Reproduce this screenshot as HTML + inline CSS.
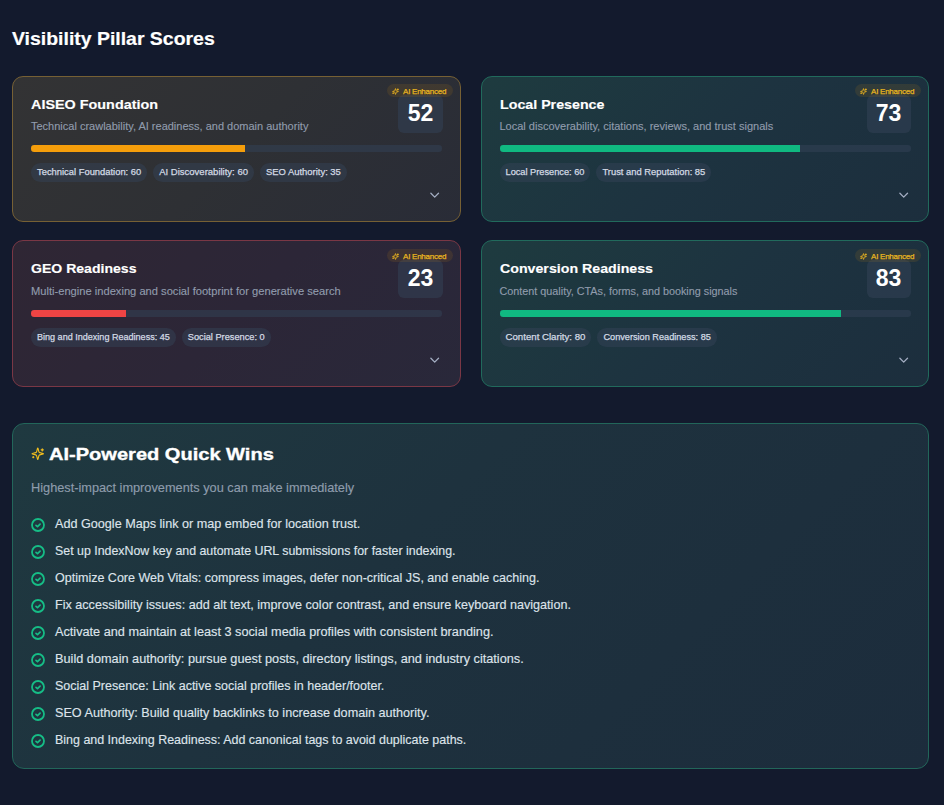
<!DOCTYPE html>
<html><head><meta charset="utf-8">
<style>
*{box-sizing:border-box;margin:0;padding:0}
html,body{width:944px;height:805px;overflow:hidden;background:#131a2d;font-family:"Liberation Sans",sans-serif}
.abs{position:absolute}
.card.row2{height:147px}.row2>*{margin-top:1px}.row2>.title{margin-top:0}
.h1{position:absolute;left:12px;top:28.5px;font-size:18.6px;line-height:20px;transform:scaleX(1.045);transform-origin:0 0;-webkit-text-stroke:0.2px #fff;font-weight:700;color:#fff;white-space:nowrap}
.card{position:absolute;width:449px;height:146px;border:1px solid;border-radius:11px;overflow:hidden}
.c-amber{border-color:#766034;background:linear-gradient(135deg,#333334 0%,#2e3034 50%,#292c37 100%)}
.c-green{border-color:#216a5c;background:linear-gradient(135deg,#1e3b3f 0%,#1d3340 50%,#1c2e3d 100%)}
.c-red{border-color:#7a3745;background:linear-gradient(135deg,#2f2634 0%,#2c2637 50%,#29283a 100%)}
.title{position:absolute;left:18px;top:20px;font-size:13.6px;line-height:16px;transform-origin:0 0;-webkit-text-stroke:0.15px #fff;font-weight:700;color:#fff;white-space:nowrap}
.desc{position:absolute;left:18px;top:43px;font-size:11px;line-height:12px;color:#919cad;-webkit-text-stroke:0.12px #919cad;white-space:nowrap}
.track{position:absolute;left:18px;top:68px;width:411px;height:6.5px;border-radius:3.25px;background:rgba(51,65,85,0.55);overflow:hidden}
.fill{position:absolute;left:0;top:0;bottom:0}
.chips{position:absolute;left:18px;top:86px;display:flex;gap:6px}
.chip{height:18.5px;padding:0 6px;border-radius:9.25px;background:rgba(51,65,85,0.5);color:#d3dae4;font-size:9.4px;line-height:18px;-webkit-text-stroke:0.25px #d3dae4;white-space:nowrap}
.score{position:absolute;left:385px;top:18px;width:45px;height:38px;border-radius:6px;background:rgba(51,65,85,0.55);color:#fff;font-weight:700;font-size:23px;line-height:37px;text-align:center}
.badge{position:absolute;right:7.5px;top:7.3px;height:13.2px;padding:2px 6.4px 0 5.4px;border-radius:7px;background:rgba(245,158,11,0.1);color:#e9b61f;font-size:8px;letter-spacing:-0.25px;line-height:11.2px;-webkit-text-stroke:0.25px #e9b61f;white-space:nowrap;display:flex;align-items:center;gap:3.7px}
.badge svg{width:7px;height:7px;flex:none;margin-top:-1px}
.chev{position:absolute;left:417px;top:114px;width:12px;height:10px}
.section{position:absolute;left:12px;top:423px;width:917px;height:346px;border:1px solid #22665a;border-radius:12px;background:linear-gradient(135deg,#1f3940 0%,#1e323e 40%,#1c2c3c 100%)}
.stitle{position:absolute;left:36px;top:21px;font-size:17.3px;line-height:18px;transform:scaleX(1.16);transform-origin:0 0;-webkit-text-stroke:0.35px #fff;font-weight:700;color:#fff;white-space:nowrap}
.ssub{position:absolute;left:18px;top:56.5px;font-size:12.75px;line-height:14px;color:#8e9cac;-webkit-text-stroke:0.15px #8e9cac;white-space:nowrap}
.item{position:absolute;left:18px;height:16px;white-space:nowrap}
.item svg{position:absolute;left:0;top:0;width:14px;height:14px}
.item span{position:absolute;left:24px;top:-1.5px;font-size:12.7px;line-height:14px;color:#dde3ea;-webkit-text-stroke:0.15px #dde3ea}
</style></head><body>
<div class="h1">Visibility Pillar Scores</div>

<!-- card 1 -->
<div class="card c-amber" style="left:12px;top:76px">
  <div class="title" style="transform:scaleX(1.058)">AISEO Foundation</div>
  <div class="desc">Technical crawlability, AI readiness, and domain authority</div>
  <div class="track"><div class="fill" style="width:214px;background:#f59e0b"></div></div>
  <div class="chips"><div class="chip" style="font-size:9.39px">Technical Foundation: 60</div><div class="chip" style="font-size:9.51px">AI Discoverability: 60</div><div class="chip" style="font-size:9.43px">SEO Authority: 35</div></div>
  <div class="score">52</div>
  <div class="badge"><svg viewBox="0 0 24 24" fill="none" stroke="#eab420" stroke-width="3" stroke-linecap="round" stroke-linejoin="round"><path d="M9.937 15.5A2 2 0 0 0 8.5 14.063l-6.135-1.582a.5.5 0 0 1 0-.962L8.5 9.936A2 2 0 0 0 9.937 8.5l1.582-6.135a.5.5 0 0 1 .963 0L14.063 8.5A2 2 0 0 0 15.5 9.937l6.135 1.581a.5.5 0 0 1 0 .964L15.5 14.063a2 2 0 0 0-1.437 1.437l-1.582 6.135a.5.5 0 0 1-.963 0zM20 3v4M22 5h-4M4 17v2M5 18H3"/></svg>AI Enhanced</div>
  <svg class="chev" viewBox="0 0 12 10"><path d="M0.9 2.3L4.7 6.1L8.5 2.3" stroke="#a3adc2" stroke-width="1.3" fill="none" stroke-linecap="round" stroke-linejoin="round"/></svg>
</div>

<!-- card 2 -->
<div class="card c-green" style="left:480.5px;top:76px;width:448.5px">
  <div class="title" style="transform:scaleX(1.047)">Local Presence</div>
  <div class="desc">Local discoverability, citations, reviews, and trust signals</div>
  <div class="track" style="width:411px"><div class="fill" style="width:300px;background:#10b981"></div></div>
  <div class="chips"><div class="chip" style="font-size:9.23px">Local Presence: 60</div><div class="chip" style="font-size:9.39px">Trust and Reputation: 85</div></div>
  <div class="score" style="left:385px;width:44px">73</div>
  <div class="badge"><svg viewBox="0 0 24 24" fill="none" stroke="#eab420" stroke-width="3" stroke-linecap="round" stroke-linejoin="round"><path d="M9.937 15.5A2 2 0 0 0 8.5 14.063l-6.135-1.582a.5.5 0 0 1 0-.962L8.5 9.936A2 2 0 0 0 9.937 8.5l1.582-6.135a.5.5 0 0 1 .963 0L14.063 8.5A2 2 0 0 0 15.5 9.937l6.135 1.581a.5.5 0 0 1 0 .964L15.5 14.063a2 2 0 0 0-1.437 1.437l-1.582 6.135a.5.5 0 0 1-.963 0zM20 3v4M22 5h-4M4 17v2M5 18H3"/></svg>AI Enhanced</div>
  <svg class="chev" viewBox="0 0 12 10"><path d="M0.9 2.3L4.7 6.1L8.5 2.3" stroke="#a3adc2" stroke-width="1.3" fill="none" stroke-linecap="round" stroke-linejoin="round"/></svg>
</div>

<!-- card 3 -->
<div class="card c-red row2" style="left:12px;top:240px">
  <div class="title" style="transform:scaleX(1.034)">GEO Readiness</div>
  <div class="desc" style="font-size:11.15px">Multi-engine indexing and social footprint for generative search</div>
  <div class="track"><div class="fill" style="width:95px;background:#ef4444"></div></div>
  <div class="chips"><div class="chip" style="font-size:9.06px">Bing and Indexing Readiness: 45</div><div class="chip" style="font-size:9.23px">Social Presence: 0</div></div>
  <div class="score">23</div>
  <div class="badge"><svg viewBox="0 0 24 24" fill="none" stroke="#eab420" stroke-width="3" stroke-linecap="round" stroke-linejoin="round"><path d="M9.937 15.5A2 2 0 0 0 8.5 14.063l-6.135-1.582a.5.5 0 0 1 0-.962L8.5 9.936A2 2 0 0 0 9.937 8.5l1.582-6.135a.5.5 0 0 1 .963 0L14.063 8.5A2 2 0 0 0 15.5 9.937l6.135 1.581a.5.5 0 0 1 0 .964L15.5 14.063a2 2 0 0 0-1.437 1.437l-1.582 6.135a.5.5 0 0 1-.963 0zM20 3v4M22 5h-4M4 17v2M5 18H3"/></svg>AI Enhanced</div>
  <svg class="chev" viewBox="0 0 12 10"><path d="M0.9 2.3L4.7 6.1L8.5 2.3" stroke="#a3adc2" stroke-width="1.3" fill="none" stroke-linecap="round" stroke-linejoin="round"/></svg>
</div>

<!-- card 4 -->
<div class="card c-green row2" style="left:480.5px;top:240px;width:448.5px">
  <div class="title" style="transform:scaleX(1.044)">Conversion Readiness</div>
  <div class="desc" style="font-size:10.8px">Content quality, CTAs, forms, and booking signals</div>
  <div class="track" style="width:411px"><div class="fill" style="width:341px;background:#10b981"></div></div>
  <div class="chips"><div class="chip" style="font-size:9.66px">Content Clarity: 80</div><div class="chip" style="font-size:9.17px">Conversion Readiness: 85</div></div>
  <div class="score" style="left:385px;width:44px">83</div>
  <div class="badge"><svg viewBox="0 0 24 24" fill="none" stroke="#eab420" stroke-width="3" stroke-linecap="round" stroke-linejoin="round"><path d="M9.937 15.5A2 2 0 0 0 8.5 14.063l-6.135-1.582a.5.5 0 0 1 0-.962L8.5 9.936A2 2 0 0 0 9.937 8.5l1.582-6.135a.5.5 0 0 1 .963 0L14.063 8.5A2 2 0 0 0 15.5 9.937l6.135 1.581a.5.5 0 0 1 0 .964L15.5 14.063a2 2 0 0 0-1.437 1.437l-1.582 6.135a.5.5 0 0 1-.963 0zM20 3v4M22 5h-4M4 17v2M5 18H3"/></svg>AI Enhanced</div>
  <svg class="chev" viewBox="0 0 12 10"><path d="M0.9 2.3L4.7 6.1L8.5 2.3" stroke="#a3adc2" stroke-width="1.3" fill="none" stroke-linecap="round" stroke-linejoin="round"/></svg>
</div>

<!-- quick wins -->
<div class="section">
  <svg class="abs" style="left:18px;top:23px;width:13.5px;height:13.5px" viewBox="0 0 24 24" fill="none" stroke="#f4bf1d" stroke-width="2" stroke-linecap="round" stroke-linejoin="round"><path d="M9.937 15.5A2 2 0 0 0 8.5 14.063l-6.135-1.582a.5.5 0 0 1 0-.962L8.5 9.936A2 2 0 0 0 9.937 8.5l1.582-6.135a.5.5 0 0 1 .963 0L14.063 8.5A2 2 0 0 0 15.5 9.937l6.135 1.581a.5.5 0 0 1 0 .964L15.5 14.063a2 2 0 0 0-1.437 1.437l-1.582 6.135a.5.5 0 0 1-.963 0zM20 3v4M22 5h-4M4 17v2M5 18H3"/></svg>
  <div class="stitle">AI-Powered Quick Wins</div>
  <div class="ssub">Highest-impact improvements you can make immediately</div>
  <div class="item" style="top:94px"><svg viewBox="0 0 14 14"><circle cx="7" cy="7" r="6" stroke="#16bd86" stroke-width="1.8" fill="none"/><path d="M5 7.4l1.5 1.3 2.6-2.5" stroke="#16bd86" stroke-width="1.7" fill="none" stroke-linecap="round" stroke-linejoin="round"/></svg><span style="font-size:12.64px">Add Google Maps link or map embed for location trust.</span></div>
  <div class="item" style="top:121px"><svg viewBox="0 0 14 14"><circle cx="7" cy="7" r="6" stroke="#16bd86" stroke-width="1.8" fill="none"/><path d="M5 7.4l1.5 1.3 2.6-2.5" stroke="#16bd86" stroke-width="1.7" fill="none" stroke-linecap="round" stroke-linejoin="round"/></svg><span style="font-size:12.38px">Set up IndexNow key and automate URL submissions for faster indexing.</span></div>
  <div class="item" style="top:148px"><svg viewBox="0 0 14 14"><circle cx="7" cy="7" r="6" stroke="#16bd86" stroke-width="1.8" fill="none"/><path d="M5 7.4l1.5 1.3 2.6-2.5" stroke="#16bd86" stroke-width="1.7" fill="none" stroke-linecap="round" stroke-linejoin="round"/></svg><span style="font-size:12.52px">Optimize Core Web Vitals: compress images, defer non-critical JS, and enable caching.</span></div>
  <div class="item" style="top:175px"><svg viewBox="0 0 14 14"><circle cx="7" cy="7" r="6" stroke="#16bd86" stroke-width="1.8" fill="none"/><path d="M5 7.4l1.5 1.3 2.6-2.5" stroke="#16bd86" stroke-width="1.7" fill="none" stroke-linecap="round" stroke-linejoin="round"/></svg><span style="font-size:12.6px">Fix accessibility issues: add alt text, improve color contrast, and ensure keyboard navigation.</span></div>
  <div class="item" style="top:202px"><svg viewBox="0 0 14 14"><circle cx="7" cy="7" r="6" stroke="#16bd86" stroke-width="1.8" fill="none"/><path d="M5 7.4l1.5 1.3 2.6-2.5" stroke="#16bd86" stroke-width="1.7" fill="none" stroke-linecap="round" stroke-linejoin="round"/></svg><span style="font-size:12.71px">Activate and maintain at least 3 social media profiles with consistent branding.</span></div>
  <div class="item" style="top:229px"><svg viewBox="0 0 14 14"><circle cx="7" cy="7" r="6" stroke="#16bd86" stroke-width="1.8" fill="none"/><path d="M5 7.4l1.5 1.3 2.6-2.5" stroke="#16bd86" stroke-width="1.7" fill="none" stroke-linecap="round" stroke-linejoin="round"/></svg><span style="font-size:12.73px">Build domain authority: pursue guest posts, directory listings, and industry citations.</span></div>
  <div class="item" style="top:256px"><svg viewBox="0 0 14 14"><circle cx="7" cy="7" r="6" stroke="#16bd86" stroke-width="1.8" fill="none"/><path d="M5 7.4l1.5 1.3 2.6-2.5" stroke="#16bd86" stroke-width="1.7" fill="none" stroke-linecap="round" stroke-linejoin="round"/></svg><span style="font-size:12.5px">Social Presence: Link active social profiles in header/footer.</span></div>
  <div class="item" style="top:283px"><svg viewBox="0 0 14 14"><circle cx="7" cy="7" r="6" stroke="#16bd86" stroke-width="1.8" fill="none"/><path d="M5 7.4l1.5 1.3 2.6-2.5" stroke="#16bd86" stroke-width="1.7" fill="none" stroke-linecap="round" stroke-linejoin="round"/></svg><span style="font-size:12.64px">SEO Authority: Build quality backlinks to increase domain authority.</span></div>
  <div class="item" style="top:310px"><svg viewBox="0 0 14 14"><circle cx="7" cy="7" r="6" stroke="#16bd86" stroke-width="1.8" fill="none"/><path d="M5 7.4l1.5 1.3 2.6-2.5" stroke="#16bd86" stroke-width="1.7" fill="none" stroke-linecap="round" stroke-linejoin="round"/></svg><span style="font-size:12.46px">Bing and Indexing Readiness: Add canonical tags to avoid duplicate paths.</span></div>
</div>
</body></html>
